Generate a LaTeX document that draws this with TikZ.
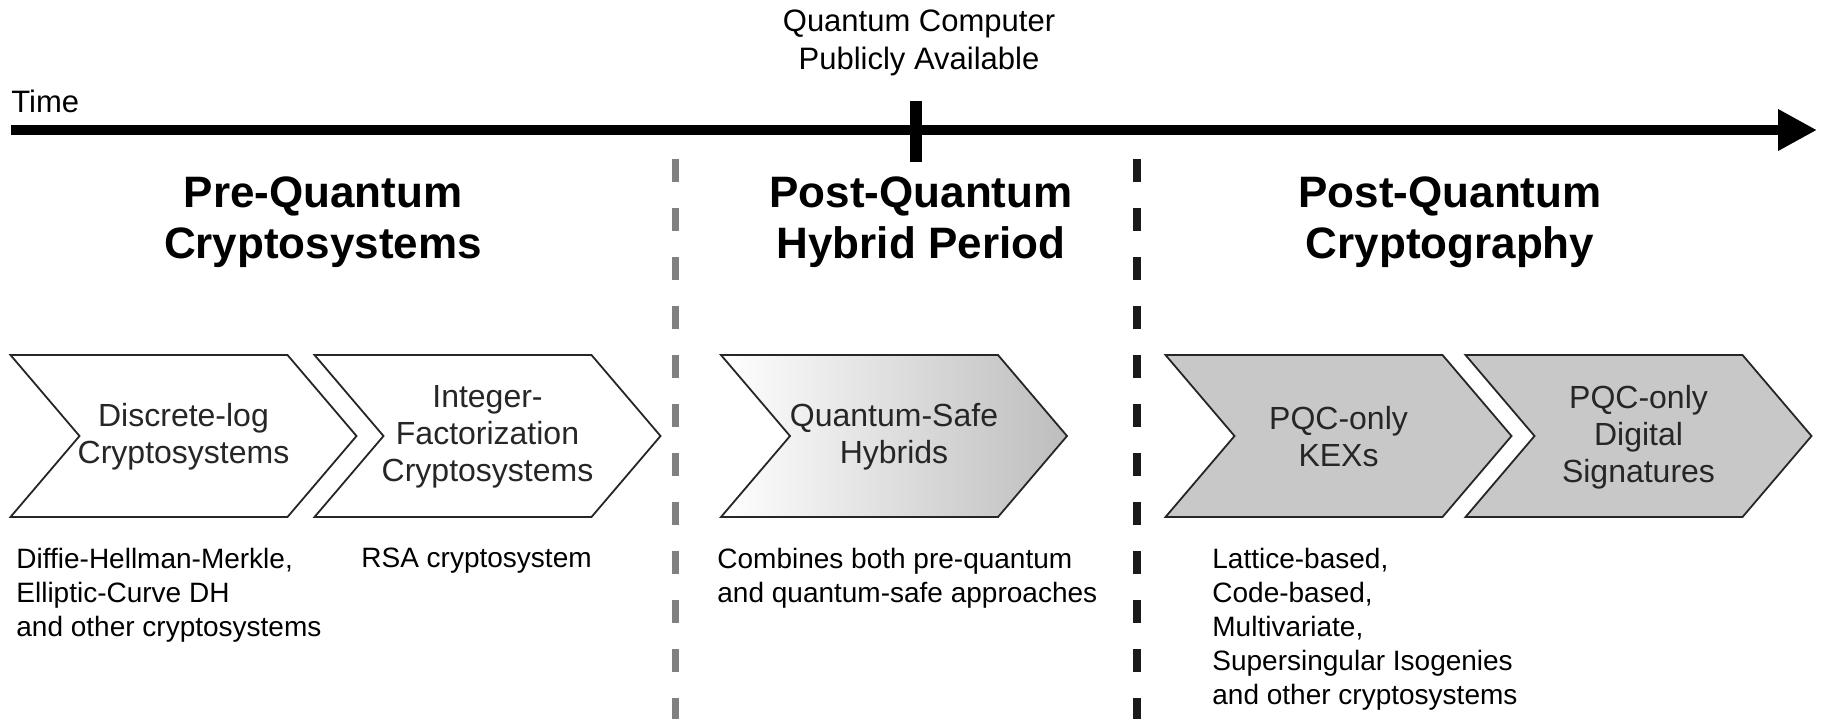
\documentclass[tikz,border=0pt]{standalone}
\usepackage{fontspec}
\setmainfont{Liberation Sans}
\usepackage{xcolor}
\usetikzlibrary{arrows.meta}
\definecolor{inkgray}{HTML}{262626}
\definecolor{pqcgray}{HTML}{C8C8C8}
\definecolor{hybridgray}{HTML}{BDBDBD}
\definecolor{dashgray}{HTML}{808080}
\definecolor{dashblack}{HTML}{1A1A1A}
\tikzset{
  chevron/.style={draw=inkgray,line width=0.9pt,line join=miter,fill=white},
  pqcchevron/.style={chevron,fill=pqcgray},
  hybridchevron/.style={chevron,left color=white,right color=hybridgray},
  chevtext/.style={inner sep=0pt,align=center,text=inkgray,font=\fontsize{16}{18.5}\selectfont},
  era/.style={inner sep=0pt,align=center,font=\fontsize{22}{25.5}\selectfont\bfseries},
  note/.style={anchor=north west,inner sep=0pt,align=left,font=\fontsize{14}{17}\selectfont},
  timetext/.style={inner sep=0pt,align=center,font=\fontsize{15.5}{19}\selectfont},
  timeline/.style={-{Triangle[length=19.5pt,width=19.5pt]},line width=5pt,draw=black},
  tick/.style={line width=6pt,draw=black},
  border/.style={line width=#1,dash pattern=on 11.5pt off 13pt},
  border/.default=4pt
}
% chevron: node name, centre x, style, text
\newcommand{\chevron}[4]{%
  \path[#3] (#2-173,355) -- (#2+104,355) -- (#2+173,436) -- (#2+104,517)
    -- (#2-173,517) -- (#2-104,436) -- cycle;
  \node[chevtext] (#1) at (#2,437) {#4};}

\begin{document}
\begin{tikzpicture}[x=0.5pt,y=-0.5pt]
\useasboundingbox (0,0) rectangle (1825,719);

% time axis
\coordinate (tstart) at (11,130);
\coordinate (tend) at (1817,130);
\coordinate (qtop) at (916,101);
\coordinate (qbot) at (916,162);
\draw[timeline] (tstart) -- (tend);
\draw[tick] (qtop) -- (qbot);
\node[timetext,anchor=base west] (time) at (11,112) {Time};
\node[timetext] (qc) at (919,43) {Quantum Computer\\Publicly Available};

% period borders
\coordinate (gtop) at (675,159);
\coordinate (gbot) at (675,719);
\coordinate (btop) at (1137,159);
\coordinate (bbot) at (1137,719);
\draw[border=3.5pt,draw=dashgray] (gtop) -- (gbot);
\draw[border,draw=dashblack] (btop) -- (bbot);

% periods
\node[era] (pre) at (323,222) {Pre-Quantum\\Cryptosystems};
\node[era] (hybrid) at (921,222) {Post-Quantum\\Hybrid Period};
\node[era] (post) at (1450,222) {Post-Quantum\\Cryptography};

% chevrons
\chevron{dlog}{183.5}{chevron}{Discrete-log\\Cryptosystems}
\chevron{ifact}{487.5}{chevron}{Integer-\\Factorization\\Cryptosystems}
\chevron{qsafe}{894}{hybridchevron}{Quantum-Safe\\Hybrids}
\chevron{kex}{1338.5}{pqcchevron}{PQC-only\\KEXs}
\chevron{sig}{1638.5}{pqcchevron}{PQC-only\\Digital\\Signatures}

% notes
\node[note] (dlognote) at (16,547.5) {Diffie-Hellman-Merkle,\\Elliptic-Curve DH\\and other cryptosystems};
\node[note] (rsanote) at (361,547.5) {RSA cryptosystem};
\node[note] (qsafenote) at (717,547.5) {Combines both pre-quantum\\and quantum-safe approaches};
\node[note] (kexnote) at (1212,547.5) {Lattice-based,\\Code-based,\\Multivariate,\\Supersingular Isogenies\\and other cryptosystems};
\end{tikzpicture}
\end{document}
